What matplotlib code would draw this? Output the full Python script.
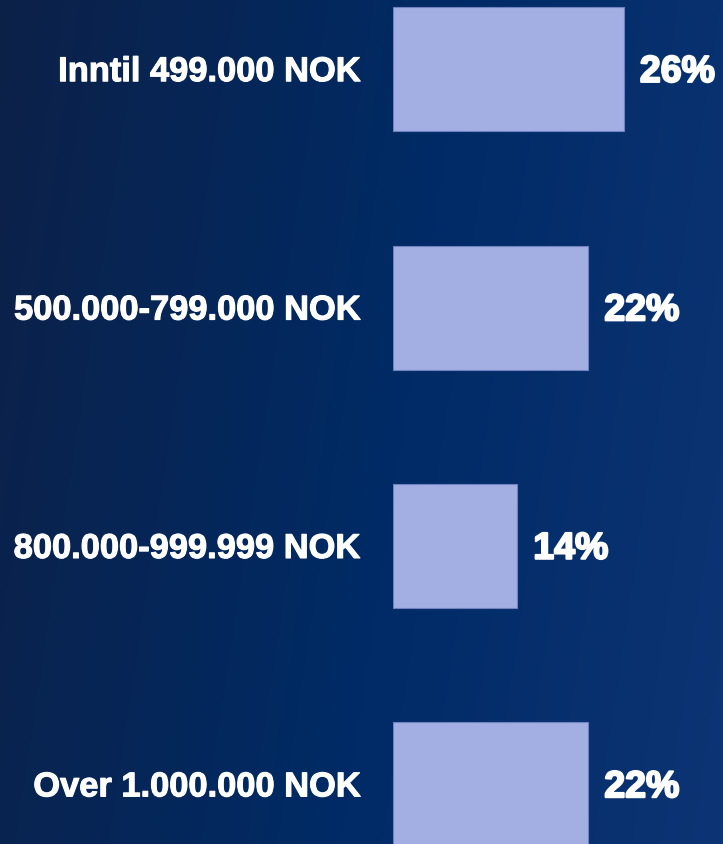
import matplotlib
matplotlib.use("Agg")
import matplotlib.pyplot as plt
import numpy as np
from matplotlib.colors import LinearSegmentedColormap
import matplotlib.patheffects as pe

categories = ["Inntil 499.000 NOK", "500.000-799.000 NOK", "800.000-999.999 NOK", "Over 1.000.000 NOK"]
values = [26, 22, 14, 22]
value_labels = ["26%", "22%", "14%", "22%"]

W, H = 723, 844
fig = plt.figure(figsize=(W / 100, H / 100), dpi=100)

# background gradient
bg = fig.add_axes([0, 0, 1, 1])
bg.set_axis_off()
xx = np.linspace(0, 1, 400)
yy = np.linspace(0, 1, 400)
X, Y = np.meshgrid(xx, yy)
grad = np.clip(0.85 * X + 0.15 * (1 - Y), 0, 1)
cmap = LinearSegmentedColormap.from_list("bg", [(0.0, "#0c2148"), (0.55, "#002b66"), (1.0, "#0d3474")])
bg.imshow(grad, cmap=cmap, aspect="auto", extent=[0, 1, 0, 1], origin="lower", interpolation="bilinear")
bg.set_xlim(0, 1)
bg.set_ylim(0, 1)

ax = fig.add_axes([393 / W, 0, 1 - 393 / W, 1])
ax.patch.set_alpha(0)
y = np.arange(len(categories))
ax.barh(y, values, height=0.52, color="#a3afe3", edgecolor="#6f82c0", linewidth=0.8)
ax.set_xlim(0, 330 / 8.88)
ax.set_ylim(3.25, -0.29)
for s in ax.spines.values():
    s.set_visible(False)
ax.set_xticks([])
ax.set_yticks(y)
ax.set_yticklabels(categories, fontsize=24.8, fontweight="bold", color="white", family="Liberation Sans")
for t in ax.get_yticklabels():
    t.set_path_effects([pe.withStroke(linewidth=0.8, foreground="white")])
ax.tick_params(axis="y", length=0, pad=23)

for yi, v, lab in zip(y, values, value_labels):
    ax.annotate(lab, (v, yi), xytext=(11.5, -2), textcoords="offset points", va="center", ha="left",
                fontsize=27, fontweight="bold", color="white", family="Liberation Sans",
                path_effects=[pe.withStroke(linewidth=1.5, foreground="white")])

fig.savefig("out.png", dpi=100)
